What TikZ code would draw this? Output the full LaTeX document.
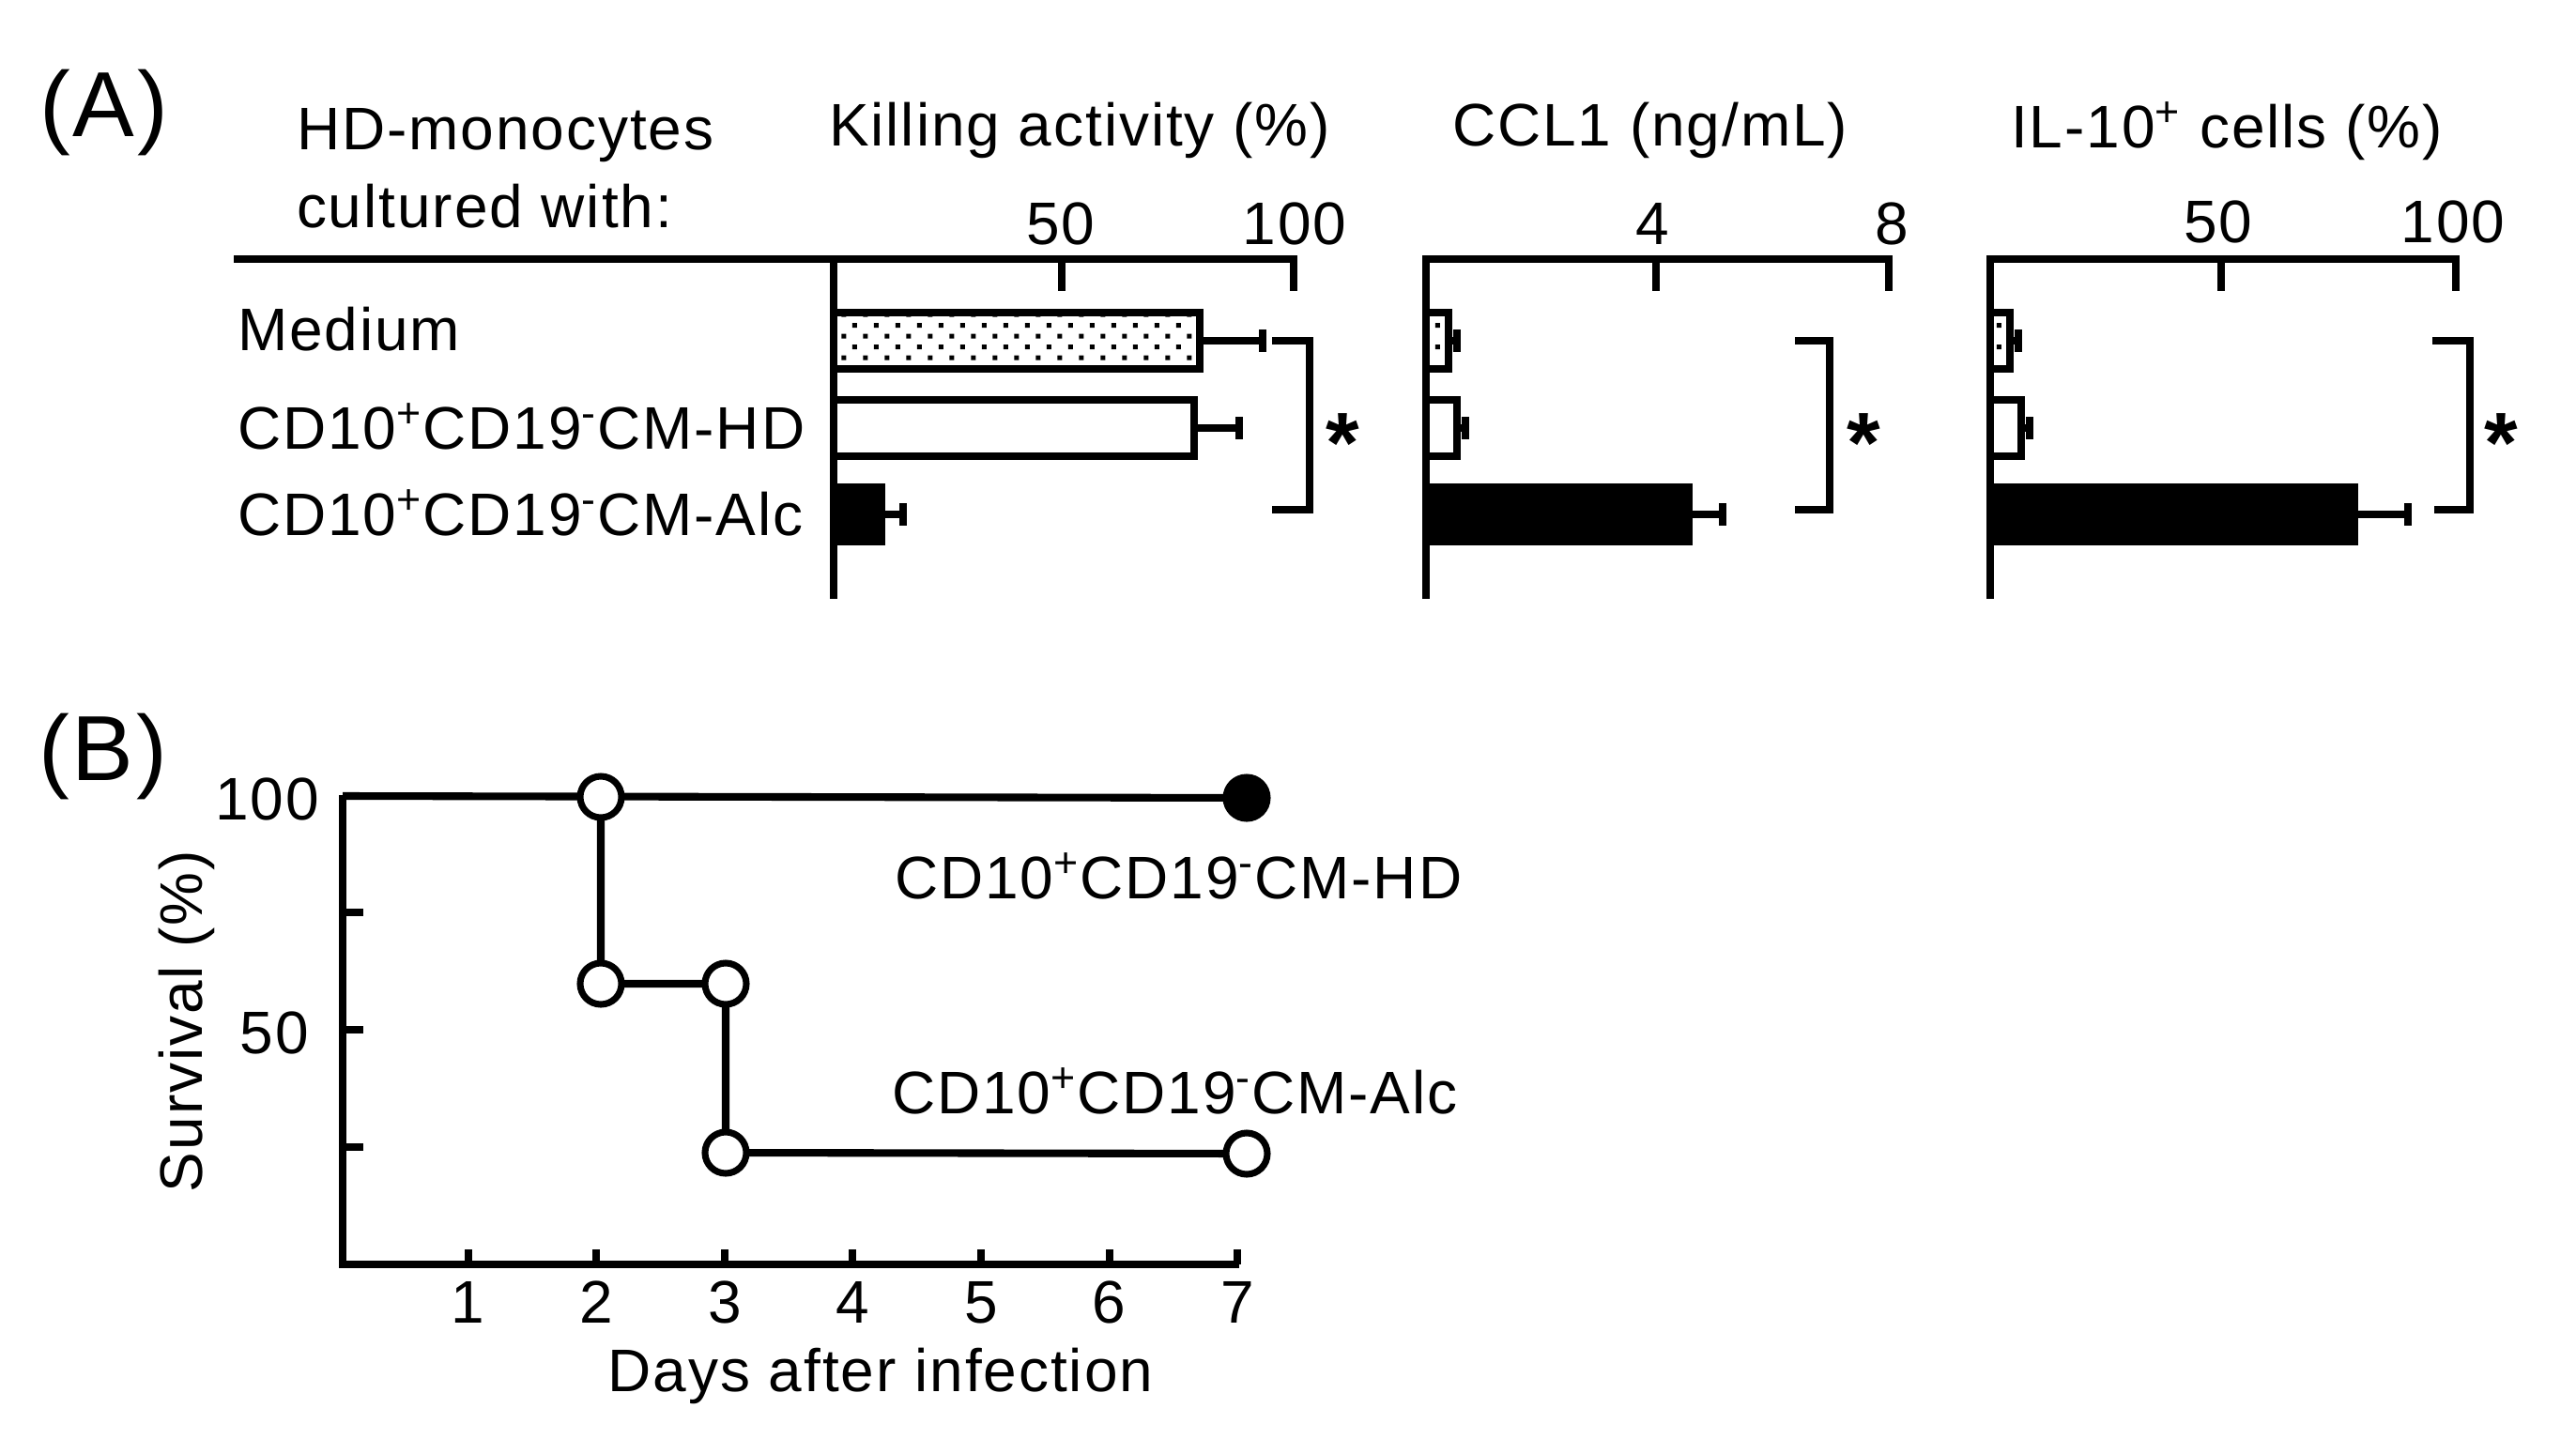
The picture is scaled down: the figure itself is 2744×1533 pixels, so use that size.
\documentclass[tikz,border=0pt]{standalone}
\usepackage{fontspec}
\setmainfont{Liberation Sans}[LetterSpace=3]
\usetikzlibrary{patterns}
\pgfdeclarepatternformonly{stipple}{\pgfpoint{0pt}{0pt}}{\pgfpoint{6.54pt}{6.54pt}}{\pgfpoint{6.54pt}{6.54pt}}{%
  \pgfpathrectangle{\pgfpoint{0.1pt}{0.1pt}}{\pgfpoint{1.4pt}{1.4pt}}%
  \pgfpathrectangle{\pgfpoint{3.37pt}{3.37pt}}{\pgfpoint{1.4pt}{1.4pt}}%
  \pgfusepath{fill}}
\begin{document}
\begin{tikzpicture}[x=0.01cm,y=-0.01cm,line width=2.3pt,
  every node/.style={inner sep=0pt,font=\fontsize{18.2}{21}\selectfont},
  lbl/.style={anchor=base west},
  tck/.style={anchor=base},
  panel/.style={anchor=base west,font=\fontsize{28}{30}\selectfont},
  star/.style={anchor=base,font=\fontsize{26}{26}\selectfont\bfseries},
  dot/.style={circle,draw,fill=white,minimum size=0.44cm,line width=2pt}]
\useasboundingbox (0,0) rectangle (2744,1533);
% (A)
\node[panel] (A) at (38,145) {(A)};
\node[lbl] (hd1) at (312,159) {HD-monocytes};
\node[lbl] (hd2) at (312,242) {cultured with:};
\node[lbl] (tkill) at (879,156) {Killing activity (\%)};
\node[lbl] (tccl) at (1543,156) {CCL1 (ng/mL)};
\node[lbl] (til) at (2138,157) {IL-10\textsuperscript{+} cells (\%)};
\node[lbl] (rmed) at (249,373) {Medium};
\node[lbl] (rhd) at (249,478) {CD10\textsuperscript{+}CD19\textsuperscript{-}CM-HD};
\node[lbl] (ralc) at (249,570) {CD10\textsuperscript{+}CD19\textsuperscript{-}CM-Alc};
\draw (249,276)--(1378,276)--(1378,310);
\draw (888,276)--(888,638);
\draw (1131,276)--(1131,310);
\draw (1519,638)--(1519,276)--(2012,276)--(2012,310);
\draw (1764,276)--(1764,310);
\draw (2120,638)--(2120,276)--(2616,276)--(2616,310);
\draw (2366,276)--(2366,310);
\node[tck] (k50) at (1130,260) {50};
\node[tck] (k100) at (1379,260) {100};
\node[tck] (c4) at (1760,260) {4};
\node[tck] (c8) at (2015,260) {8};
\node[tck] (i50) at (2363,258) {50};
\node[tck] (i100) at (2613,258) {100};
% killing activity
\draw[pattern=stipple] (888,333) rectangle (1278,393);
\draw (888,426) rectangle (1272,486);
\fill (888,515) rectangle (943,581);
\draw (1278,363)--(1345,363) (1345,351)--(1345,375);
\draw (1272,456)--(1320,456) (1320,444)--(1320,468);
\draw (943,548)--(962,548) (962,536)--(962,560);
\draw (1355,363)--(1395,363)--(1395,543)--(1355,543);
\node[star] (s1) at (1430,503) {*};
% CCL1
\draw[pattern=stipple] (1519,333) rectangle (1543,393);
\draw (1519,426) rectangle (1552,486);
\fill (1519,515) rectangle (1803,581);
\draw (1543,363)--(1552,363) (1552,351)--(1552,375);
\draw (1552,456)--(1561,456) (1561,444)--(1561,468);
\draw (1803,548)--(1835,548) (1835,536)--(1835,560);
\draw (1912,363)--(1949,363)--(1949,543)--(1912,543);
\node[star] (s2) at (1985,503) {*};
% IL-10
\draw[pattern=stipple] (2120,333) rectangle (2141,393);
\draw (2120,426) rectangle (2153,486);
\fill (2120,515) rectangle (2512,581);
\draw (2141,363)--(2150,363) (2150,351)--(2150,375);
\draw (2153,456)--(2162,456) (2162,444)--(2162,468);
\draw (2512,548)--(2565,548) (2565,536)--(2565,560);
\draw (2591,363)--(2631,363)--(2631,543)--(2593,543);
\node[star] (s3) at (2664,503) {*};
% (B)
\node[panel] (B) at (37,831) {(B)};
\draw (365,847)--(365,1347)--(1320,1347);
\foreach \y in {972,1097,1222} \draw (365,\y)--(387,\y);
\foreach \d in {1,...,7}{
  \draw ({362+136.6*\d},1347)--({362+136.6*\d},1331);
  \node[tck] at ({362+136.6*\d},1409) {\d};
}
\node[anchor=base east] (y100) at (344,873) {100};
\node[anchor=base east] (y50) at (333,1122) {50};
\node[rotate=90,anchor=base] (ylab) at (215,1088) {Survival (\%)};
\node[tck] (xlab) at (938,1482) {Days after infection};
\coordinate (s0) at (365,848);
\coordinate (h2) at (640,849);
\coordinate (h7) at (1328,850);
\coordinate (a2) at (640,1048);
\coordinate (a3) at (773,1048);
\coordinate (a3b) at (773,1228);
\coordinate (a7) at (1328,1229);
\draw (s0)--(h7);
\draw (h2)--(a2)--(a3)--(a3b)--(a7);
\foreach \p in {h2,a2,a3,a3b,a7} \node[dot] at (\p) {};
\node[dot,fill=black] at (h7) {};
\node[lbl] (lhd) at (949,957) {CD10\textsuperscript{+}CD19\textsuperscript{-}CM-HD};
\node[lbl] (lalc) at (946,1186) {CD10\textsuperscript{+}CD19\textsuperscript{-}CM-Alc};
\end{tikzpicture}
\end{document}
